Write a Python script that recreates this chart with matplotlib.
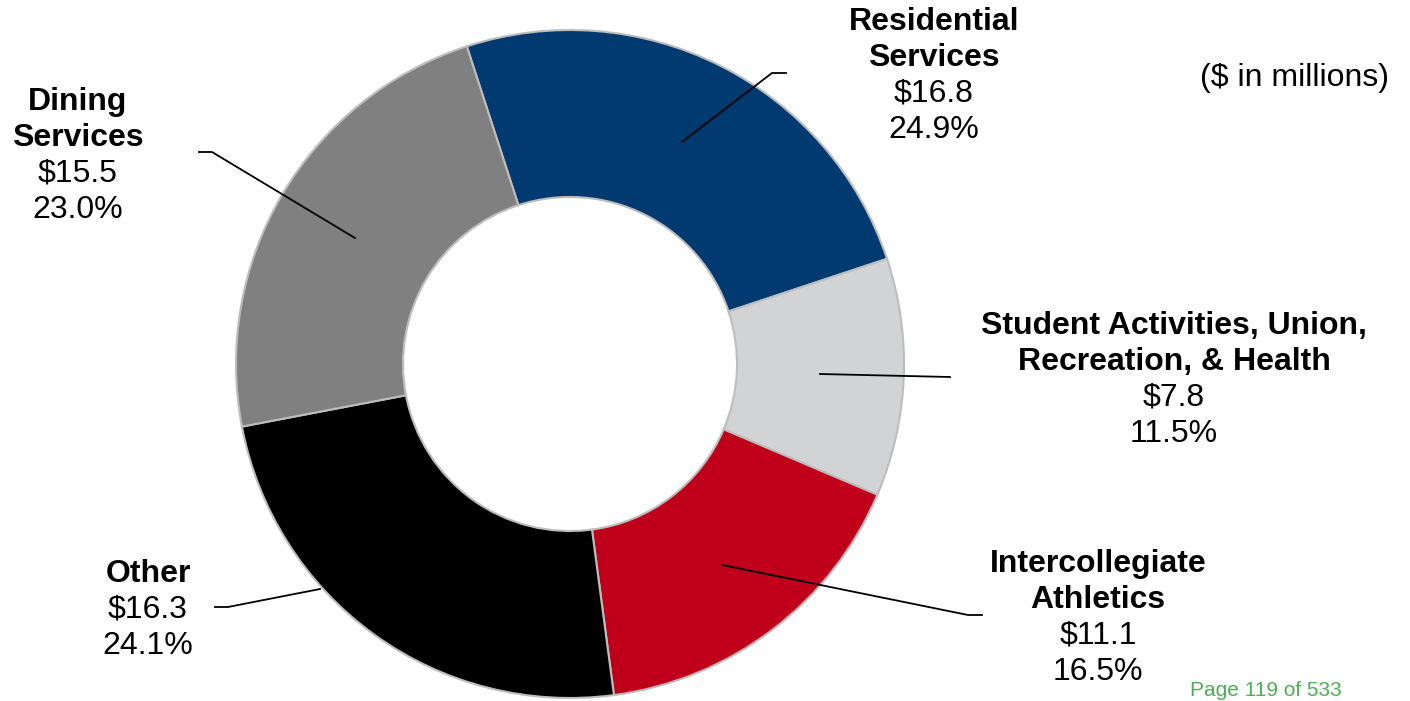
import matplotlib.pyplot as plt

plt.rcParams['font.family'] = ['Liberation Sans', 'DejaVu Sans']

# auxiliary enterprises spending ($ in millions)
categories = ['Residential\nServices', 'Student Activities, Union,\nRecreation, & Health',
              'Intercollegiate\nAthletics', 'Other', 'Dining\nServices']
amounts = [16.8, 7.8, 11.1, 16.3, 15.5]
shares = [24.9, 11.5, 16.5, 24.1, 23.0]
colors = ['#003A70', '#D1D3D4', '#C0001A', '#000000', '#808080']

W, H = 1410, 701


def main():
    fig = plt.figure(figsize=(W / 100, H / 100), dpi=100)
    ax = fig.add_axes([0, 0, 1, 1])

    cx, cy, r = 570, H - 364, 334
    ax.pie(shares, colors=colors, startangle=108, counterclock=False,
           center=(cx, cy), radius=r, frame=True,
           wedgeprops=dict(width=r * 0.5, edgecolor='#BDBDBD', linewidth=1.5))
    ax.set_xlim(0, W)
    ax.set_ylim(0, H)
    ax.axis('off')

    # leader lines (pixel positions, y from top)
    leaders = [
        [(682, 142), (772, 73), (786, 73)],
        [(820, 374), (950, 377)],
        [(722, 565), (968, 615), (982, 615)],
        [(320, 589), (228, 607), (215, 607)],
        [(355, 238), (212, 152), (199, 152)],
    ]
    for pts in leaders:
        ax.plot([p[0] for p in pts], [H - p[1] for p in pts], color='black', lw=1.3)

    # label blocks: name (bold) then amount and share
    label_pos = [(934, 22), (1174, 326), (1098, 564), (148, 574), (78, 102)]
    step = 36
    fs = 23
    for name, amt, pct, (x, y) in zip(categories, amounts, shares, label_pos):
        lines = name.split('\n')
        for i, ln in enumerate(lines):
            ax.text(x, H - (y + i * step), ln, ha='center', va='center',
                    fontsize=fs, fontweight='bold')
        n = len(lines)
        ax.text(x, H - (y + n * step), f'${amt:.1f}', ha='center', va='center', fontsize=fs)
        ax.text(x, H - (y + (n + 1) * step), f'{pct:.1f}%', ha='center', va='center', fontsize=fs)

    ax.text(1295, H - 78, '($ in millions)', ha='center', va='center', fontsize=fs)
    ax.text(1266, H - 696, 'Page 119 of 533', ha='center', va='baseline',
            fontsize=15, color='#4CAF50')

    fig.savefig('out.png', dpi=100)


if __name__ == '__main__':
    main()
